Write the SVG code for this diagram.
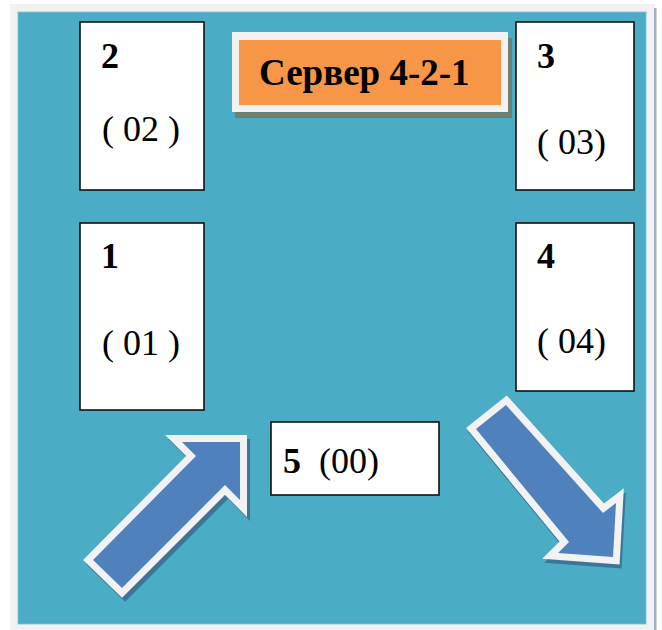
<svg xmlns="http://www.w3.org/2000/svg" width="662" height="630" viewBox="0 0 662 630">
<style>
.box{fill:#ffffff;stroke:#111111;stroke-width:1.6}
.num{font-family:"Liberation Serif","Times New Roman",serif;font-weight:bold;font-size:36px;fill:#000}
.code{font-family:"Liberation Serif","Times New Roman",serif;font-size:36px;fill:#000}
.title{font-family:"Liberation Serif","Times New Roman",serif;font-weight:bold;font-size:37px;fill:#000}
.arrow{fill:#4f81bd;stroke:#f2f2f2;stroke-width:14;stroke-linejoin:miter;paint-order:stroke}
.ashadow{fill:#3a7696;stroke:#3a7696;stroke-width:14;stroke-linejoin:miter}
</style>
<rect x="0" y="0" width="662" height="630" fill="#ffffff"/>
<rect x="10" y="4" width="645" height="626" fill="#f2f2f2"/>
<rect x="654" y="8" width="2.5" height="622" fill="#9fb4c0"/>
<rect x="18" y="12" width="628" height="612" fill="#4bacc6" stroke="#7cc3d6" stroke-width="0.8"/>

<g id="title">
<rect x="235" y="38" width="277" height="80" fill="#6f8070"/>
<rect x="232" y="32" width="276" height="80" fill="#f2f2f2"/>
<rect x="239" y="40" width="262" height="65" fill="#f79646"/>
<text class="title" x="259" y="85">Сервер 4-2-1</text>
</g>

<g id="node2">
<rect class="box" x="80" y="22" width="124" height="168"/>
<text class="num" x="101" y="68">2</text>
<text class="code" x="102" y="141">( 02 )</text>
</g>

<g id="node3">
<rect class="box" x="516" y="22" width="118" height="168"/>
<text class="num" x="537" y="68">3</text>
<text class="code" x="537" y="154">( 03)</text>
</g>

<g id="node1">
<rect class="box" x="80" y="223" width="124" height="187"/>
<text class="num" x="101" y="268">1</text>
<text class="code" x="102" y="355">( 01 )</text>
</g>

<g id="node4">
<rect class="box" x="516" y="223" width="118" height="168"/>
<text class="num" x="537" y="268">4</text>
<text class="code" x="537" y="353">( 04)</text>
</g>

<g id="node5">
<rect class="box" x="271" y="422" width="168" height="73"/>
<text class="num" x="283" y="473">5</text>
<text class="code" x="319" y="473">(00)</text>
</g>

<g id="connectors">
<polygon class="ashadow" transform="translate(3,4)" points="240,442 182,442 196,456 93,560 122,588 225,485 240,500"/>
<polygon class="arrow" points="240,442 182,442 196,456 93,560 122,588 225,485 240,500"/>
<polygon class="ashadow" transform="translate(2,4)" points="476,429 506,405 603,513 616,503 613,557 558,553 569,542"/>
<polygon class="arrow" points="476,429 506,405 603,513 616,503 613,557 558,553 569,542"/>
</g>
</svg>
